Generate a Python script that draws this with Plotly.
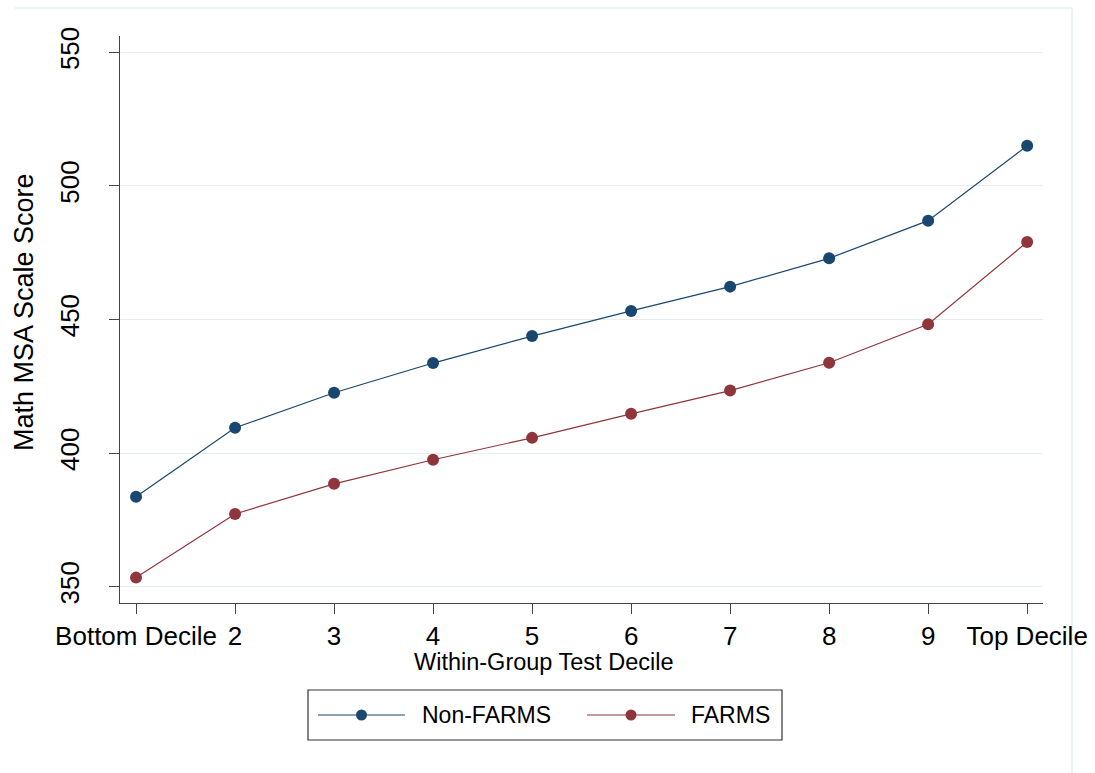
import plotly.graph_objects as go

deciles = [1, 2, 3, 4, 5, 6, 7, 8, 9, 10]
tick_labels = ["Bottom Decile", "2", "3", "4", "5", "6", "7", "8", "9", "Top Decile"]
non_farms = [383.7, 409.5, 422.6, 433.7, 443.8, 453.2, 462.3, 472.9, 487.0, 515.0]
farms = [353.4, 377.2, 388.5, 397.5, 405.7, 414.7, 423.4, 433.8, 448.2, 479.0]
y_ticks = [350, 400, 450, 500, 550]
series_names = ["Non-FARMS", "FARMS"]
x_title = "Within-Group Test Decile"
y_title = "Math MSA Scale Score"

NAVY = "#1a476f"
MAROON = "#90353b"
GRID = "#e6eef0"
FONT = "Liberation Sans, Arial, sans-serif"

# plot area in page pixels (body margin removed by post_script)
PX0, PX1, PY0, PY1 = 120, 1043, 36, 603
W, H = 1095, 773


def px(x):
    return (x - PX0) / (PX1 - PX0)


def py(y):
    return (PY1 - y) / (PY1 - PY0)


fig = go.Figure()
fig.add_trace(go.Scatter(x=deciles, y=non_farms, mode="lines+markers", name=series_names[0],
                         line=dict(color=NAVY, width=1.2),
                         marker=dict(color=NAVY, size=12), showlegend=False))
fig.add_trace(go.Scatter(x=deciles, y=farms, mode="lines+markers", name=series_names[1],
                         line=dict(color=MAROON, width=1.2),
                         marker=dict(color=MAROON, size=12), showlegend=False))

fig.update_layout(
    width=W, height=H,
    margin=dict(l=PX0, r=W - PX1, t=PY0, b=H - PY1, autoexpand=False),
    paper_bgcolor="white", plot_bgcolor="white",
    font=dict(family=FONT, size=20, color="black"),
    showlegend=False,
    xaxis=dict(range=[0.838, 10.16], tickmode="array", tickvals=deciles, ticktext=tick_labels,
               showgrid=False, zeroline=False, showline=True, linecolor="#444", linewidth=1.2,
               ticks="outside", ticklen=10, tickcolor="#444", ticklabeloverflow="allow",
               tickfont=dict(size=26, family=FONT)),
    yaxis=dict(range=[343.9, 556.1], tickmode="array", tickvals=y_ticks,
               showgrid=True, gridcolor=GRID, gridwidth=1, zeroline=False,
               showline=True, linecolor="#444", linewidth=1.2,
               ticks="outside", ticklen=10, tickcolor="#444", tickangle=-90,
               ticklabelstandoff=20,
               tickfont=dict(size=26, family=FONT)),
)

# axis titles (Stata centres them on the graph region)
fig.add_annotation(xref="paper", yref="paper", x=px(543), y=py(662),
                   xanchor="center", yanchor="middle", showarrow=False,
                   text=x_title, font=dict(size=23.5, family=FONT, color="black"))
fig.add_annotation(xref="paper", yref="paper", x=px(24), y=py(312),
                   xanchor="center", yanchor="middle", showarrow=False, textangle=-90,
                   text=y_title, font=dict(size=27, family=FONT, color="black"))

# faint outer graph-region border (top and right)
fig.add_shape(type="line", xref="paper", yref="paper",
              x0=px(15), x1=px(1072), y0=py(8), y1=py(8),
              line=dict(color=GRID, width=1.5), layer="below")
fig.add_shape(type="line", xref="paper", yref="paper",
              x0=px(1072), x1=px(1072), y0=py(773), y1=py(8),
              line=dict(color=GRID, width=1.5), layer="below")

# legend box drawn by hand (Stata style)
fig.add_shape(type="rect", xref="paper", yref="paper",
              x0=px(308), x1=px(782), y0=py(740), y1=py(690),
              line=dict(color="#333", width=1.2), fillcolor="white")
legend_items = [
    (series_names[0], NAVY, 318, 405, 420),
    (series_names[1], MAROON, 587, 675, 689),
]
for name, col, lx0, lx1, tx in legend_items:
    ly = 715
    fig.add_shape(type="line", xref="paper", yref="paper",
                  x0=px(lx0), x1=px(lx1), y0=py(ly), y1=py(ly),
                  line=dict(color=col, width=1.2))
    cx = (lx0 + lx1) / 2
    r = 5.5
    fig.add_shape(type="circle", xref="paper", yref="paper",
                  x0=px(cx - r), x1=px(cx + r), y0=py(ly + r), y1=py(ly - r),
                  line=dict(color=col, width=0), fillcolor=col)
    fig.add_annotation(xref="paper", yref="paper", x=px(tx), y=py(ly),
                       xanchor="left", yanchor="middle", showarrow=False,
                       text=name, font=dict(size=23, family=FONT, color="black"))

fig.write_html("out.html", config={"displayModeBar": False},
               post_script="document.body.style.margin='0';document.body.style.overflow='hidden';")
